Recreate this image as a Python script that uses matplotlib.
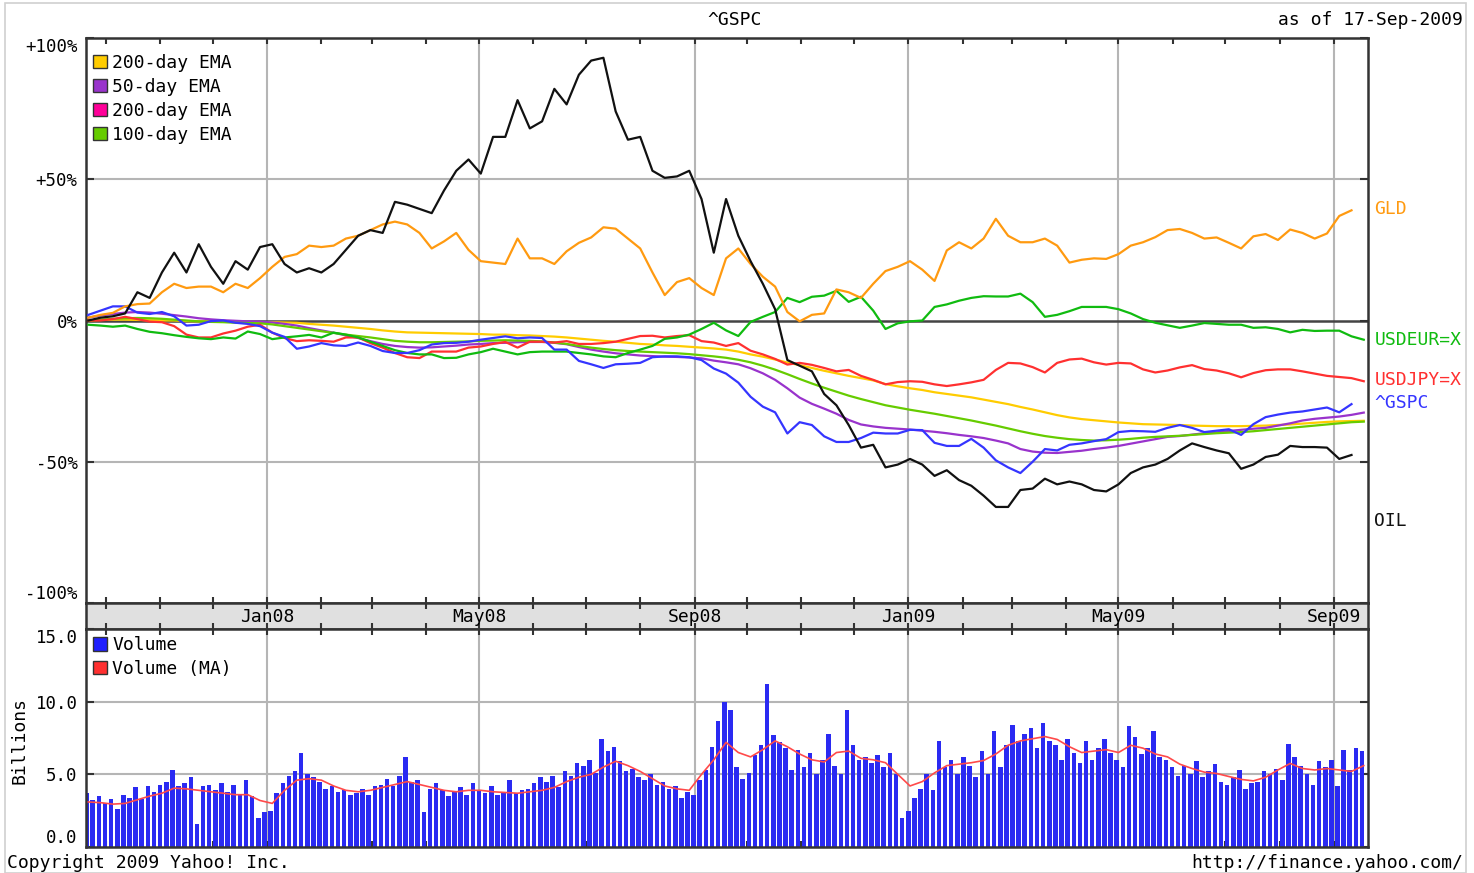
import matplotlib
matplotlib.use('Agg')
import matplotlib.pyplot as plt
import matplotlib.dates as mdates
import matplotlib.transforms as mtrans
from matplotlib.patches import Patch, Rectangle
import pandas as pd

plt.rcParams['font.family'] = 'DejaVu Sans Mono'
plt.rcParams['font.size'] = 12.5

# weekly closes, % change since start (Fri 21-Sep-2007 onwards)
oil = [0, 1, 1.5, 2.5, 10, 8, 17, 24, 17, 27,
       19, 13, 21, 18, 26, 27, 20, 17, 18.5, 17,
       20, 25, 30, 32, 31, 42, 41, 39.5, 38, 46,
       53, 57, 52, 65, 65, 78, 68, 70.5, 82, 76.5,
       87, 92, 93, 74, 64, 65, 53, 50.5, 51, 53,
       43, 24, 43, 30, 21, 13, 4, -14, -16, -18,
       -26, -30, -37, -45, -44, -52, -51, -49, -51, -55,
       -53, -56.5, -58.5, -62, -66, -66, -60, -59.5, -56, -58,
       -57, -58, -60, -60.5, -58, -54, -52, -51, -49, -46,
       -43.5, -44.8, -46, -47, -52.5, -51, -48.3, -47.5, -44.4, -44.8,
       -44.8, -45, -49, -47.6]
gld = [1, 2, 2.7, 5, 5.8, 6, 10, 13, 11.5, 12,
       12, 10, 13, 11.5, 15, 19, 22.5, 23.5, 26.5, 26,
       26.5, 29, 30, 32, 34, 35, 34, 31, 25.5, 28,
       31, 25, 21, 20.5, 20, 29, 22, 22, 20, 24.5,
       27.5, 29.4, 33, 32.5, 29, 25.5, 17, 9, 13.6, 15,
       11.5, 9, 22, 25.5, 20, 15.5, 12, 3, -0.3, 2,
       2.5, 11, 10, 8, 13, 17.5, 19, 21, 18, 14,
       24.8, 27.7, 25.5, 29, 36, 30, 27.7, 27.7, 29, 26.5,
       20.5, 21.5, 22, 21.8, 23.5, 26.5, 27.7, 29.5, 32, 32.4,
       31, 29, 29.4, 27.5, 25.5, 29.8, 30.6, 28.5, 32.2, 31,
       29, 30.8, 37, 39]
gspc = [2, 3.5, 5, 5, 2.8, 2.3, 3, 1.5, -1.8, -1.5,
        -0.2, 0, -0.8, -1.2, -2, -4.3, -5.8, -10, -9.2, -8,
        -8.8, -9, -7.8, -9, -10.8, -11.5, -11.5, -10.5, -8.5, -8,
        -7.9, -7.5, -6.8, -6.2, -5.6, -6.3, -6, -6.2, -10.3, -10.3,
        -14.3, -15.5, -16.8, -15.5, -15.3, -15, -13, -12.7, -12.7, -13,
        -14, -17, -18.8, -22, -27, -30.5, -32.5, -40, -36, -37,
        -41, -43, -43, -41.6, -39.7, -40, -40, -38.7, -38.8, -43.3,
        -44.4, -44.4, -41.9, -45, -49.5, -52, -54, -50, -45.5, -46,
        -44, -43.5, -42.7, -42, -39.5, -39.1, -39.2, -39.4, -38, -37,
        -38, -39.5, -39, -38.5, -40.5, -36.7, -34.2, -33.3, -32.6, -32.2,
        -31.5, -30.8, -32.5, -29.6]
usdeur = [-1.5, -1.8, -2.2, -1.8, -3, -4, -4.5, -5.2, -5.8, -6.3,
          -6.6, -6, -6.4, -3.9, -4.8, -6.6, -6, -5.6, -5.1, -6,
          -4.3, -5, -6, -7.5, -9, -10.5, -11.5, -12, -12, -13.3,
          -13.2, -12, -11.2, -10, -11, -12, -11.2, -11, -11, -11,
          -11.5, -12, -12.7, -13, -11.5, -10.3, -9, -6.5, -6, -5,
          -3, -0.8, -3.5, -5.5, -0.5, 1.3, 3, 8, 6.5, 8.4,
          8.8, 10.5, 6.6, 8.4, 3.5, -3, -1, -0.3, 0, 4.8,
          5.7, 7, 8, 8.6, 8.5, 8.5, 9.5, 6.5, 1.3, 2,
          3.3, 4.8, 4.8, 4.8, 4, 2.5, 0.5, -0.8, -1.7, -2.6,
          -1.8, -0.9, -1.2, -1.5, -1.5, -2.6, -2.4, -3, -4.2, -3.3,
          -3.7, -3.6, -3.6, -5.6, -6.8]
usdjpy = [0, 0, 0.5, 1.3, 0.5, -0.4, -0.6, -2, -5, -6,
          -6, -4.6, -3.6, -2.2, -1.5, -4.3, -6.2, -7.3, -7, -7.2,
          -7.5, -6, -6, -8, -9.6, -11.5, -13, -13.3, -11, -11,
          -11, -9.6, -9.2, -8.3, -7.6, -9.6, -7.5, -7.5, -7.8, -7.3,
          -8.3, -8.3, -8, -7.5, -6.5, -5.5, -5.4, -6, -5.5, -5.2,
          -7.3, -7.8, -9, -8, -10.7, -12, -13.6, -15.6, -15, -15.7,
          -16.8, -18, -17.5, -19.6, -21, -22.6, -21.8, -21.5, -21.7, -22.6,
          -23.2, -22.6, -21.9, -21, -17.5, -15, -15.2, -16.5, -18.4, -15,
          -13.8, -13.5, -14.8, -15.6, -15, -15.2, -17.3, -18.4, -17.7, -16.6,
          -15.8, -17.2, -17.7, -18.7, -20.1, -18.6, -17.6, -17.3, -17.3, -18,
          -18.8, -19.6, -20, -20.4, -21.5]
ema200 = [0, 0.2, 0.3, 0.3, 0.2, 0.1, 0, 0, -0.2, -0.3,
          -0.4, -0.4, -0.5, -0.5, -0.6, -0.6, -0.7, -0.8, -1.2, -1.5,
          -1.8, -2.2, -2.6, -3, -3.5, -3.9, -4.2, -4.3, -4.4, -4.5,
          -4.6, -4.7, -4.8, -5, -5, -5.2, -5.3, -5.5, -5.7, -6,
          -6.4, -6.8, -7.2, -7.5, -7.9, -8.3, -8.5, -8.8, -9, -9.3,
          -9.6, -9.9, -10.3, -11, -12, -12.8, -13.8, -14.9, -15.8, -16.8,
          -17.8, -18.7, -19.6, -20.4, -21.2, -22.5, -23.3, -24, -24.6, -25.4,
          -26, -26.6, -27.2, -28, -28.8, -29.6, -30.6, -31.5, -32.5, -33.5,
          -34.3, -34.9, -35.3, -35.7, -36.1, -36.4, -36.7, -36.8, -36.9, -37,
          -37.2, -37.3, -37.4, -37.4, -37.4, -37.3, -37.2, -37, -36.8, -36.5,
          -36.2, -35.9, -35.7, -35.6, -35.5]
ema50 = [1, 1.8, 2.3, 2.8, 3, 2.8, 2.4, 1.9, 1.4, 0.8,
         0.4, 0.1, -0.1, -0.3, -0.4, -0.7, -1.2, -1.8, -2.7, -3.5,
         -4.3, -5.3, -6.2, -7.3, -8.3, -9, -9.4, -9.6, -9.5, -9.2,
         -8.9, -8.5, -8.3, -8, -7.9, -7.7, -7.6, -7.6, -7.9, -8.4,
         -9.4, -10.3, -11, -11.6, -12, -12.4, -12.6, -12.8, -12.9, -13.1,
         -13.4, -14.2, -14.8, -15.5, -16.9, -18.7, -21, -24, -27.3, -29.5,
         -31.2, -33, -35.2, -36.8, -37.5, -38, -38.3, -38.6, -39, -39.4,
         -39.9, -40.5, -41, -41.6, -42.5, -43.5, -45.5, -46.4, -46.8, -46.9,
         -46.5, -46.1, -45.5, -45, -44.4, -43.6, -42.8, -42, -41.2, -40.9,
         -40.4, -39.9, -39.6, -39.1, -38.7, -38.3, -38, -37.2, -36.4, -35.4,
         -34.8, -34.4, -34, -33.4, -32.6]
ema100 = [0, 0.3, 0.6, 0.8, 0.9, 0.8, 0.6, 0.3, 0, -0.3,
          -0.5, -0.6, -0.8, -0.9, -1, -1.4, -2, -2.6, -3.2, -3.8,
          -4.4, -5, -5.5, -6, -6.6, -7.2, -7.5, -7.7, -7.7, -7.6,
          -7.5, -7.4, -7.2, -7.1, -7, -7.1, -7.2, -7.4, -7.8, -8.3,
          -9, -9.6, -10.1, -10.5, -10.8, -11, -11.2, -11.4, -11.6, -11.9,
          -12.3, -12.7, -13.2, -13.9, -14.8, -16, -17.4, -19, -20.7, -22.3,
          -23.8, -25.2, -26.6, -27.8, -28.9, -30, -30.8, -31.6, -32.3, -33,
          -33.8, -34.6, -35.4, -36.3, -37.2, -38.2, -39.2, -40.1, -40.9, -41.5,
          -42, -42.3, -42.5, -42.4, -42.2, -41.9, -41.5, -41.2, -41, -40.8,
          -40.5, -40.2, -39.9, -39.7, -39.5, -39.2, -38.8, -38.4, -38, -37.6,
          -37.2, -36.8, -36.4, -36, -35.8]

# volume in billions, two readings per week
volume = [3.7, 3.2, 3.5, 3.0, 3.3, 2.6, 3.6, 3.4, 4.1, 3.3,
          4.2, 3.8, 4.3, 4.5, 5.3, 4.2, 4.4, 4.8, 1.6, 4.2,
          4.3, 3.9, 4.4, 3.8, 4.3, 3.6, 4.6, 3.5, 2.0, 2.4,
          2.5, 3.7, 4.4, 4.9, 5.2, 6.5, 5.0, 4.8, 4.5, 4.0,
          4.2, 3.8, 3.9, 3.6, 3.7, 4.0, 3.6, 4.2, 4.3, 4.7,
          4.2, 4.9, 6.2, 4.5, 4.6, 2.4, 4.0, 4.4, 3.9, 3.5,
          3.8, 4.1, 3.6, 4.4, 3.9, 3.7, 4.2, 3.6, 3.8, 4.6,
          3.7, 3.9, 4.0, 4.4, 4.8, 4.5, 4.9, 4.1, 5.2, 4.9,
          5.8, 5.6, 6.0, 5.1, 7.4, 6.6, 6.9, 5.9, 5.2, 5.4,
          4.8, 4.6, 5.0, 4.3, 4.5, 4.0, 4.2, 3.4, 3.8, 3.6,
          4.6, 5.3, 6.9, 8.7, 10.0, 9.4, 5.5, 4.7, 5.1, 6.3,
          7.0, 11.2, 7.7, 7.2, 6.8, 5.3, 6.7, 5.5, 6.5, 5.0,
          6.0, 7.8, 5.6, 5.0, 9.4, 7.0, 6.0, 6.2, 5.8, 6.3,
          5.5, 6.5, 5.0, 2.0, 2.5, 3.4, 4.0, 5.0, 3.9, 7.3,
          5.5, 6.0, 5.0, 6.2, 5.6, 4.8, 6.6, 5.0, 8.0, 5.5,
          7.0, 8.4, 7.3, 7.8, 8.2, 6.8, 8.5, 7.3, 7.0, 6.0,
          7.4, 6.5, 5.8, 7.3, 6.0, 6.8, 7.4, 6.5, 6.0, 5.5,
          8.3, 7.6, 6.4, 6.8, 8.0, 6.2, 6.0, 5.5, 4.9, 5.6,
          5.0, 5.9, 4.8, 5.2, 5.7, 4.5, 4.3, 4.8, 5.3, 4.0,
          4.4, 4.5, 5.2, 5.0, 5.4, 4.6, 7.1, 6.2, 5.6, 5.0,
          4.3, 5.9, 5.5, 6.0, 4.2, 6.7, 5.3, 6.8, 6.6]
volume_ma = [3.1, 3.05, 2.95, 3.0, 3.25, 3.5, 3.7, 4.05, 4.0, 3.9,
             3.8, 3.7, 3.6, 3.6, 3.2, 3.0, 3.9, 4.6, 4.7, 4.6,
             4.2, 3.9, 3.8, 3.9, 4.1, 4.3, 4.5, 4.3, 4.1, 3.9,
             3.8, 3.9, 3.9, 3.8, 3.75, 3.7, 3.8, 3.9, 4.1, 4.5,
             4.8, 5.0, 5.5, 5.9, 5.6, 5.2, 4.7, 4.2, 4.0, 3.9,
             5.0, 6.0, 7.2, 6.5, 6.2, 6.7, 7.3, 6.9, 6.4, 6.0,
             5.85, 6.5, 6.6, 6.1, 6.0, 5.8, 5.0, 4.2, 4.5, 5.1,
             5.6, 5.7, 5.8, 5.95, 6.4, 7.0, 7.3, 7.45, 7.6, 7.4,
             6.9, 6.5, 6.6, 6.7, 6.5, 7.0, 6.8, 6.4, 6.2, 5.7,
             5.4, 5.15, 5.06, 4.85, 4.65, 4.55, 4.8, 5.3, 5.75, 5.4,
             5.3, 5.4, 5.3, 5.2, 5.6]

week_dates = pd.date_range('2007-09-21', periods=105, freq='7D')
vol_dates = pd.date_range('2007-09-20', periods=len(volume), freq='84h')

series = [  # name, values, colour, right-hand label y
    ('USDJPY=X', usdjpy, '#ff3030', -21.2),
    ('USDEUR=X', usdeur, '#10bb10', -6.8),
    ('^GSPC', gspc, '#3535ff', -29.3),
    ('GLD', gld, '#ff9a10', 39.6),
    ('OIL', oil, '#111111', -71),
]
emas = [('200-day EMA', ema200, '#ffcc00'), ('50-day EMA', ema50, '#9933cc'),
        ('200-day EMA', None, '#ff0099'), ('100-day EMA', ema100, '#66cc00')]

month_labels = ['Jan08', 'May08', 'Sep08', 'Jan09', 'May09', 'Sep09']
month_dates = pd.to_datetime(['2008-01-01', '2008-05-01', '2008-09-01',
                              '2009-01-01', '2009-05-01', '2009-09-01'])

W, H = 1474, 873
fig = plt.figure(figsize=(W / 100, H / 100), dpi=100)

def px_axes(x0, y0, x1, y1):
    return fig.add_axes([x0 / W, 1 - y1 / H, (x1 - x0) / W, (y1 - y0) / H])

ax = px_axes(86, 38, 1368, 603)
strip = px_axes(86, 603, 1368, 629)
vax = px_axes(86, 629, 1368, 847)

xlim = (mdates.date2num(pd.Timestamp('2007-09-19 16:00')),
        mdates.date2num(pd.Timestamp('2009-09-20 10:00')))
edge = '#333333'

for a in (ax, strip, vax):
    a.set_xlim(*xlim)
    for s in a.spines.values():
        s.set_color(edge)
        s.set_linewidth(1.8)
    a.xaxis.set_major_locator(mdates.MonthLocator(bymonth=[1, 5, 9]))
    a.xaxis.set_minor_locator(mdates.MonthLocator())
    a.tick_params(axis='x', which='both', direction='in', top=True, bottom=True,
                  labelbottom=False, length=4, width=1.5, color=edge)
    for d in month_dates:
        if a is not strip:
            a.axvline(d, color='#b5b5b5', lw=1.5, zorder=0)

# main chart
ax.set_ylim(-100, 100)
ax.set_yticks([-100, -50, 0, 50, 100])
ax.set_yticklabels(['-100%', '-50%', '0%', '+50%', '+100%'])
ax.tick_params(axis='y', direction='in', left=True, right=True, length=6,
               width=1.5, color=edge, pad=6)
ax.get_yticklabels()[0].set_va('bottom')
ax.get_yticklabels()[-1].set_va('top')
for lvl in (-50, 50):
    ax.axhline(lvl, color='#b5b5b5', lw=1.5, zorder=0)
ax.axhline(0, color='#444444', lw=1.8, zorder=1)

for name, vals, col in emas:
    if vals is not None:
        ax.plot(week_dates[:len(vals)], vals, color=col, lw=1.6, zorder=2)
lbl_tr = mtrans.blended_transform_factory(ax.transAxes, ax.transData)
for name, vals, col, ly in series:
    ax.plot(week_dates[:len(vals)], vals, color=col, lw=1.6, zorder=3)
    ax.text(1.005, ly, name, color=col, transform=lbl_tr, ha='left', va='center',
            fontsize=13)

ax.legend(handles=[Patch(facecolor=c, edgecolor='#333333', label=n)
                   for n, v, c in emas],
          loc='upper left', bbox_to_anchor=(0.0, 0.985), frameon=False,
          handlelength=0.75, handleheight=0.75, handletextpad=0.3,
          labelspacing=0.33, borderaxespad=0.2, borderpad=0.2, fontsize=13)

# month strip
strip.set_facecolor('#e0e0e0')
strip.set_ylim(0, 1)
strip.set_yticks([])
for d, lab in zip(month_dates, month_labels):
    strip.text(d, 0.45, lab, ha='center', va='center', fontsize=13)

# volume panel
vax.set_ylim(0, 15)
vax.set_yticks([0, 5, 10, 15])
vax.set_yticklabels(['0.0', '5.0', '10.0', '15.0'])
vax.tick_params(axis='y', direction='in', left=True, right=True, length=6,
                width=1.5, color=edge, pad=6)
vax.get_yticklabels()[0].set_va('bottom')
vax.get_yticklabels()[-1].set_va('top')
for lvl in (5, 10):
    vax.axhline(lvl, color='#b5b5b5', lw=1.5, zorder=0)
vax.bar(vol_dates, volume, width=2.6, color='#2a2af2', zorder=2)
vax.plot(week_dates[:len(volume_ma)], volume_ma, color='#ff4a4a', lw=1.2, zorder=3)
vax.legend(handles=[Patch(facecolor='#1f1fff', edgecolor='#333333', label='Volume'),
                    Patch(facecolor='#ff3030', edgecolor='#333333', label='Volume (MA)')],
           loc='upper left', frameon=False, handlelength=0.75, handleheight=0.75,
           handletextpad=0.3, labelspacing=0.33, borderaxespad=0.2, borderpad=0.2,
           fontsize=13)
fig.text(20 / W, 1 - 740 / H, 'Billions', rotation=90, ha='center', va='center',
         fontsize=13)

# header / footer
fig.text(735 / W, 1 - 20 / H, '^GSPC', ha='center', va='center', fontsize=13)
fig.text(1463 / W, 1 - 20 / H, 'as of 17-Sep-2009', ha='right', va='center',
         fontsize=13)
fig.text(7 / W, 1 - 863 / H, 'Copyright 2009 Yahoo! Inc.', ha='left', va='center',
         fontsize=13)
fig.text(1463 / W, 1 - 863 / H, 'http://finance.yahoo.com/', ha='right',
         va='center', fontsize=13)
fig.patches.append(Rectangle((5 / W, 0), 1461 / W, 1 - 3 / H, transform=fig.transFigure,
                             fill=False, edgecolor='#d0d0d0', lw=1.2))

fig.savefig('out.png', dpi=100)
